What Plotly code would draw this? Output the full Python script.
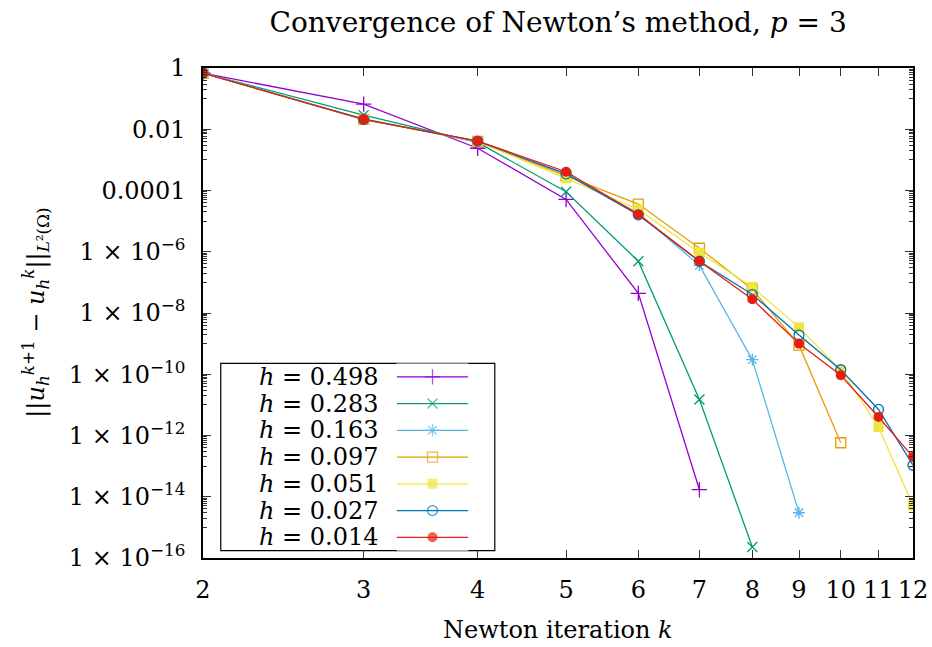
import plotly.graph_objects as go

# ---------------- data ----------------
k_vals = [2, 3, 4, 5, 6, 7, 8, 9, 10, 11, 12]
h_labels = ["0.498", "0.283", "0.163", "0.097", "0.051", "0.027", "0.014"]

err_h0498 = [0.68, 6.6e-2, 2.4e-3, 5.1e-5, 4.4e-8, 1.7e-14]
err_h0283 = [0.68, 2.9e-2, 3.7e-3, 9.1e-5, 4.9e-7, 1.5e-11, 2.3e-16]
err_h0163 = [0.68, 2.2e-2, 3.8e-3, 3.5e-4, 1.8e-5, 3.6e-7, 3.0e-10, 3.0e-15]
err_h0097 = [0.68, 2.1e-2, 4.0e-3, 3.0e-4, 3.6e-5, 1.3e-6, 6.0e-8, 8.9e-10, 5.8e-13]
err_h0051 = [0.68, 2.1e-2, 4.0e-3, 2.5e-4, 2.4e-5, 9.3e-7, 7.1e-8, 3.4e-9, 1.35e-10, 1.9e-12, 5.2e-15]
err_h0027 = [0.68, 2.1e-2, 4.1e-3, 3.5e-4, 1.6e-5, 4.9e-7, 4.0e-8, 1.9e-9, 1.4e-10, 7.1e-12, 1.07e-13]
err_h0014 = [0.68, 2.1e-2, 4.1e-3, 4.1e-4, 1.66e-5, 4.9e-7, 2.8e-8, 1.0e-9, 9.3e-11, 4.0e-12, 2.0e-13]

series = [err_h0498, err_h0283, err_h0163, err_h0097, err_h0051, err_h0027, err_h0014]

y_tick_vals = [1, 1e-2, 1e-4, 1e-6, 1e-8, 1e-10, 1e-12, 1e-14, 1e-16]
y_tick_text = ["1", "0.01", "0.0001", "1 × 10<sup>−6</sup>", "1 × 10<sup>−8</sup>",
               "1 × 10<sup>−10</sup>", "1 × 10<sup>−12</sup>", "1 × 10<sup>−14</sup>",
               "1 × 10<sup>−16</sup>"]
x_tick_vals = [2, 3, 4, 5, 6, 7, 8, 9, 10, 11, 12]

# ---------------- styles ----------------
colors = ["#9400d3", "#009e73", "#56b4e9", "#e69f00", "#f0e442", "#0072b2", "#e51e10"]
symbols = ["cross-thin-open", "x-thin-open", "asterisk-open", "square-open",
           "square", "circle-open", "circle"]
msizes = [11, 10, 10, 10, 10, 10, 10]

FONT = "DejaVu Serif"
FS_TICK = 24
FS_TITLE = 28
FS_LEG = 24
FS_AX = 24

fig = go.Figure()

for i, ys in enumerate(series):
    sym = symbols[i]
    filled = sym in ("square", "circle")
    fig.add_trace(go.Scatter(
        x=k_vals[:len(ys)], y=ys, mode="lines+markers",
        line=dict(color=colors[i], width=1.3),
        marker=dict(symbol=sym, size=msizes[i], color=colors[i],
                    line=dict(color=colors[i], width=0 if filled else 1.3)),
        showlegend=False, name="h = " + h_labels[i],
    ))

# custom legend samples (symbol on the right, like gnuplot)
n = len(h_labels)
for i in range(n):
    sym = symbols[i]
    filled = sym in ("square", "circle")
    fig.add_trace(go.Scatter(
        x=[0, 0.5, 1], y=[i, i, i], mode="lines+markers",
        xaxis="x2", yaxis="y2",
        line=dict(color=colors[i], width=1.3),
        marker=dict(symbol=sym, size=[0, msizes[i], 0], color=colors[i],
                    line=dict(color=colors[i], width=0 if filled else 1.3)),
        showlegend=False, hoverinfo="skip",
    ))

annotations = []
for i, h in enumerate(h_labels):
    annotations.append(dict(
        x=0.251, xref="paper", y=i, yref="y2", xanchor="right", yanchor="middle",
        text=f"<i>h</i> = {h}", showarrow=False, height=26,
        font=dict(family=FONT, size=FS_LEG, color="black")))

annotations.append(dict(
    x=0.5, xref="paper", y=-0.147, yref="paper", xanchor="center", yanchor="middle",
    text="Newton iteration <i>k</i>", showarrow=False,
    font=dict(family=FONT, size=FS_AX, color="black")))
annotations.append(dict(
    x=-0.237, xref="paper", y=0.5, yref="paper", xanchor="center", yanchor="middle",
    textangle=-90,
    text="||<i>u</i><sub><i>h</i></sub><sup><i>k</i>+1</sup> − <i>u</i><sub><i>h</i></sub><sup><i>k</i></sup>||<sub><i>L</i>²(Ω)</sub>",
    showarrow=False, font=dict(family=FONT, size=FS_AX, color="black")))

minor_vals = []
for e in range(0, -16, -2):
    for m in range(1, 10):
        minor_vals.append(m * 10.0 ** (e - 1))

fig.update_layout(
    width=932, height=647,
    margin=dict(l=203, r=19, t=68, b=89, autoexpand=False),
    paper_bgcolor="white", plot_bgcolor="white",
    font=dict(family=FONT, size=FS_TICK, color="black"),
    title=dict(text="Convergence of Newton’s method, <i>p</i> = 3",
               x=0.5989, xanchor="center", y=1 - 22 / 647, yanchor="middle",
               font=dict(family=FONT, size=FS_TITLE, color="black")),
    xaxis=dict(type="log", range=[0.30103, 1.07918], tickmode="array",
               tickvals=x_tick_vals, ticktext=[str(v) for v in x_tick_vals],
               ticks="inside", ticklen=8, tickwidth=1, tickcolor="#333",
               ticklabelstandoff=9, automargin=False,
               showline=True, linecolor="black", linewidth=1.5, mirror="allticks",
               showgrid=False, zeroline=False,
               tickfont=dict(family=FONT, size=FS_TICK, color="black")),
    yaxis=dict(type="log", range=[-16, 0], tickmode="array",
               tickvals=y_tick_vals, ticktext=y_tick_text,
               ticks="inside", ticklen=8, tickwidth=1, tickcolor="#333",
               ticklabelstandoff=11, automargin=False,
               showline=True, linecolor="black", linewidth=1.5, mirror="allticks",
               showgrid=False, zeroline=False,
               minor=dict(tickmode="array", tickvals=minor_vals, ticks="inside",
                          ticklen=4, tickwidth=1, tickcolor="#333", showgrid=False),
               tickfont=dict(family=FONT, size=FS_TICK, color="black")),
    xaxis2=dict(domain=[0.2728, 0.3737], range=[0, 1], visible=False, anchor="y2"),
    yaxis2=dict(domain=[0.015, 0.397], range=[n - 0.5, -0.5], visible=False, anchor="x2"),
    annotations=annotations,
    shapes=[dict(type="rect", xref="paper", yref="paper", x0=0.025, x1=0.411,
                 y0=0.015, y1=0.397, line=dict(color="black", width=1.2),
                 fillcolor="rgba(0,0,0,0)", layer="below")],
)

fig.write_html("out.html")
